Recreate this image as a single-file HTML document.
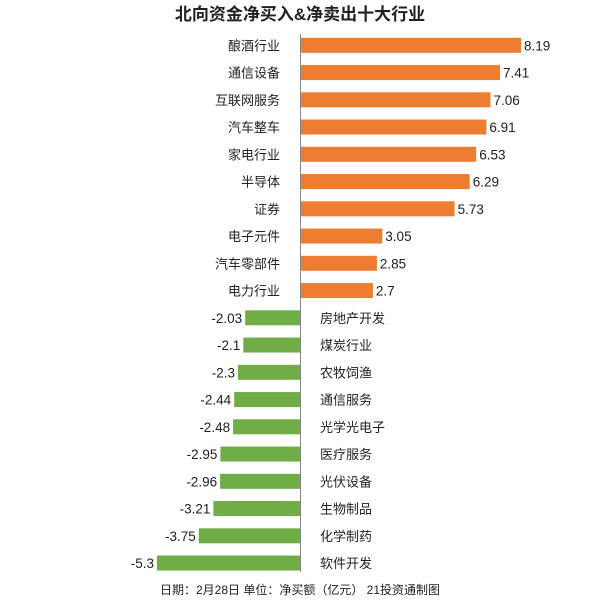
<!DOCTYPE html><html><head><meta charset="utf-8"><style>body{margin:0;background:#fff}</style></head><body>
<svg width="600" height="600" xmlns="http://www.w3.org/2000/svg" font-family="Liberation Sans, Noto Sans CJK SC, sans-serif" fill="#222">
<text x="300" y="20" text-anchor="middle" font-size="17" font-weight="bold">北向资金净买入&amp;净卖出十大行业</text>
<g fill="#ED7D31">
<rect x="301" y="37.8" width="220" height="15"/>
<rect x="301" y="65.05" width="199" height="15"/>
<rect x="301" y="92.3" width="189.5" height="15"/>
<rect x="301" y="119.55" width="185.4" height="15"/>
<rect x="301" y="146.8" width="175.2" height="15"/>
<rect x="301" y="174.05" width="168.7" height="15"/>
<rect x="301" y="201.3" width="153.6" height="15"/>
<rect x="301" y="228.55" width="81.3" height="15"/>
<rect x="301" y="255.8" width="75.9" height="15"/>
<rect x="301" y="283.05" width="71.9" height="15"/>
</g>
<g fill="#70AD47">
<rect x="245.2" y="310.3" width="54.8" height="15"/>
<rect x="243.3" y="337.55" width="56.7" height="15"/>
<rect x="238" y="364.8" width="62" height="15"/>
<rect x="234.2" y="392.05" width="65.8" height="15"/>
<rect x="233.1" y="419.3" width="66.9" height="15"/>
<rect x="220.4" y="446.55" width="79.6" height="15"/>
<rect x="220.1" y="473.8" width="79.9" height="15"/>
<rect x="213.4" y="501.05" width="86.6" height="15"/>
<rect x="198.8" y="528.3" width="101.2" height="15"/>
<rect x="157" y="555.55" width="143" height="15"/>
</g>
<g font-size="13.5">
<text x="524" y="50.3">8.19</text>
<text x="503" y="77.55">7.41</text>
<text x="493.5" y="104.8">7.06</text>
<text x="489.4" y="132.05">6.91</text>
<text x="479.2" y="159.3">6.53</text>
<text x="472.7" y="186.55">6.29</text>
<text x="457.6" y="213.8">5.73</text>
<text x="385.3" y="241.05">3.05</text>
<text x="379.9" y="268.3">2.85</text>
<text x="375.9" y="295.55">2.7</text>
</g>
<g font-size="13.5" text-anchor="end">
<text x="242.2" y="322.8">-2.03</text>
<text x="240.3" y="350.05">-2.1</text>
<text x="235" y="377.3">-2.3</text>
<text x="231.2" y="404.55">-2.44</text>
<text x="230.1" y="431.8">-2.48</text>
<text x="217.4" y="459.05">-2.95</text>
<text x="217.1" y="486.3">-2.96</text>
<text x="210.4" y="513.55">-3.21</text>
<text x="195.8" y="540.8">-3.75</text>
<text x="154" y="568.05">-5.3</text>
</g>
<g font-size="13" text-anchor="end">
<text x="280" y="50.3">酿酒行业</text>
<text x="280" y="77.55">通信设备</text>
<text x="280" y="104.8">互联网服务</text>
<text x="280" y="132.05">汽车整车</text>
<text x="280" y="159.3">家电行业</text>
<text x="280" y="186.55">半导体</text>
<text x="280" y="213.8">证券</text>
<text x="280" y="241.05">电子元件</text>
<text x="280" y="268.3">汽车零部件</text>
<text x="280" y="295.55">电力行业</text>
</g>
<g font-size="13">
<text x="320" y="322.8">房地产开发</text>
<text x="320" y="350.05">煤炭行业</text>
<text x="320" y="377.3">农牧饲渔</text>
<text x="320" y="404.55">通信服务</text>
<text x="320" y="431.8">光学光电子</text>
<text x="320" y="459.05">医疗服务</text>
<text x="320" y="486.3">光伏设备</text>
<text x="320" y="513.55">生物制品</text>
<text x="320" y="540.8">化学制药</text>
<text x="320" y="568.05">软件开发</text>
</g>
<line x1="300.5" y1="34" x2="300.5" y2="572" stroke="#888" stroke-width="1"/>
<text x="300" y="594" text-anchor="middle" font-size="12">日期：2月28日 单位：净买额（亿元） 21投资通制图</text>
</svg></body></html>
